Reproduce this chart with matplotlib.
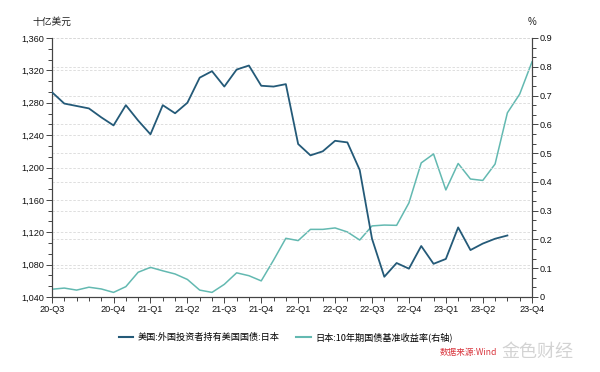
import matplotlib
matplotlib.use("Agg")
import matplotlib.pyplot as plt
from matplotlib.ticker import FixedLocator, AutoMinorLocator, FuncFormatter, MultipleLocator
from matplotlib.lines import Line2D

plt.rcParams['font.family'] = ['Liberation Sans', 'Noto Sans CJK SC', 'DejaVu Sans']

# Monthly data, Jul 2020 ... Oct 2023
months = [f"{y}-{m:02d}" for y in range(2020, 2024) for m in range(1, 13)]
months = months[6:46]  # 2020-07 .. 2023-10

us_treasury_japan = [1293, 1279, 1276, 1273, 1262, 1252, 1277, 1258, 1241, 1277,
                     1267, 1280, 1311, 1319, 1300, 1321, 1326, 1301, 1300, 1303,
                     1229, 1215, 1220, 1233, 1231, 1197, 1112, 1065, 1082, 1075,
                     1103, 1081, 1087, 1126, 1098, 1106, 1112, 1116]

jgb_10y = [0.027, 0.031, 0.024, 0.034, 0.028, 0.016, 0.036, 0.086, 0.103, 0.091,
           0.080, 0.061, 0.024, 0.016, 0.044, 0.084, 0.074, 0.056, 0.128, 0.204,
           0.196, 0.235, 0.235, 0.240, 0.226, 0.198, 0.247, 0.250, 0.249, 0.327,
           0.466, 0.497, 0.372, 0.464, 0.410, 0.405, 0.462, 0.640, 0.705, 0.817]

tick_months = ["2020-07", "2020-12", "2021-03", "2021-06", "2021-09", "2021-12",
               "2022-03", "2022-06", "2022-09", "2022-12", "2023-03", "2023-06",
               "2023-10"]
tick_labels = ["20-Q3", "20-Q4", "21-Q1", "21-Q2", "21-Q3", "21-Q4", "22-Q1",
               "22-Q2", "22-Q3", "22-Q4", "23-Q1", "23-Q2", "23-Q4"]

series1_name = "美国:外国投资者持有美国国债:日本"
series2_name = "日本:10年期国债基准收益率(右轴)"

c_dark = "#245a78"
c_teal = "#63b9b1"
axis_c = "#444444"
fs = 6.6

fig = plt.figure(figsize=(6.0, 3.72), dpi=100)
ax = fig.add_axes([52/600, 1-297/372, 480/600, 259/372])
ax2 = ax.twinx()

x1 = list(range(len(us_treasury_japan)))
x2 = list(range(len(jgb_10y)))

ax.plot(x1, us_treasury_japan, color=c_dark, lw=1.3, zorder=5)
ax2.plot(x2, jgb_10y, color=c_teal, lw=1.1, zorder=4)

ax.set_xlim(0, len(months) - 1)
ax.set_ylim(1040, 1360)
ax2.set_ylim(0, 0.9)

ax.yaxis.set_major_locator(MultipleLocator(40))
ax.yaxis.set_minor_locator(AutoMinorLocator(3))
ax.yaxis.set_major_formatter(FuncFormatter(lambda v, p: f"{int(v):,}"))
ax2.yaxis.set_major_locator(MultipleLocator(0.1))
ax2.yaxis.set_minor_locator(AutoMinorLocator(3))
ax2.yaxis.set_major_formatter(FuncFormatter(lambda v, p: "0" if abs(v) < 1e-9 else f"{v:.1f}"))

ax.xaxis.set_major_locator(FixedLocator([months.index(m) for m in tick_months]))
ax.set_xticklabels(tick_labels)
ax.xaxis.set_minor_locator(FixedLocator(list(range(len(months)))))

for a in (ax, ax2):
    for s in a.spines.values():
        s.set_color(axis_c)
        s.set_linewidth(0.8)
    a.spines['top'].set_visible(False)
    a.tick_params(which='both', colors=axis_c, labelcolor='#111111', labelsize=fs, width=0.7)
    a.tick_params(which='major', length=4, pad=1.5)
    a.tick_params(which='minor', length=3)

ax.grid(axis='y', which='major', color='#d9d9d9', ls=(0, (3, 2)), lw=0.6)
ax2.grid(axis='y', which='major', color='#d9d9d9', ls=(0, (3, 2)), lw=0.6)
ax.set_axisbelow(True)
ax.set_zorder(ax2.get_zorder() + 1)
ax.patch.set_visible(False)

fig.text(32/600, 1-22/372, "十亿美元", fontsize=fs+0.4, color='#222222',
         family=['Noto Sans CJK SC', 'DejaVu Sans'], va='center', ha='left')
fig.text(532/600, 1-22/372, "%", fontsize=fs+0.4, color='#222222', va='center', ha='center')

handles = [Line2D([], [], color=c_dark, lw=1.5), Line2D([], [], color=c_teal, lw=1.5)]
leg = fig.legend(handles, [series1_name, series2_name], loc='center',
                 bbox_to_anchor=(286/600, 1-337/372), ncol=2, frameon=False,
                 prop={'family': ['Noto Sans CJK SC', 'DejaVu Sans'], 'size': fs},
                 handlelength=1.6, handletextpad=0.5, columnspacing=1.8)

# watermark
fig.text(497/600, 1-352/372, "数据来源:Wind", fontsize=6.2, color='#d9363e',
         family=['Noto Sans CJK SC', 'DejaVu Sans'], va='center', ha='right')
fig.text(501/600, 1-352/372, "金色财经", fontsize=13, color='#c8c8c8', alpha=0.8,
         family=['Noto Sans CJK SC', 'DejaVu Sans'], va='center', ha='left')

fig.savefig("out.png", dpi=100)
